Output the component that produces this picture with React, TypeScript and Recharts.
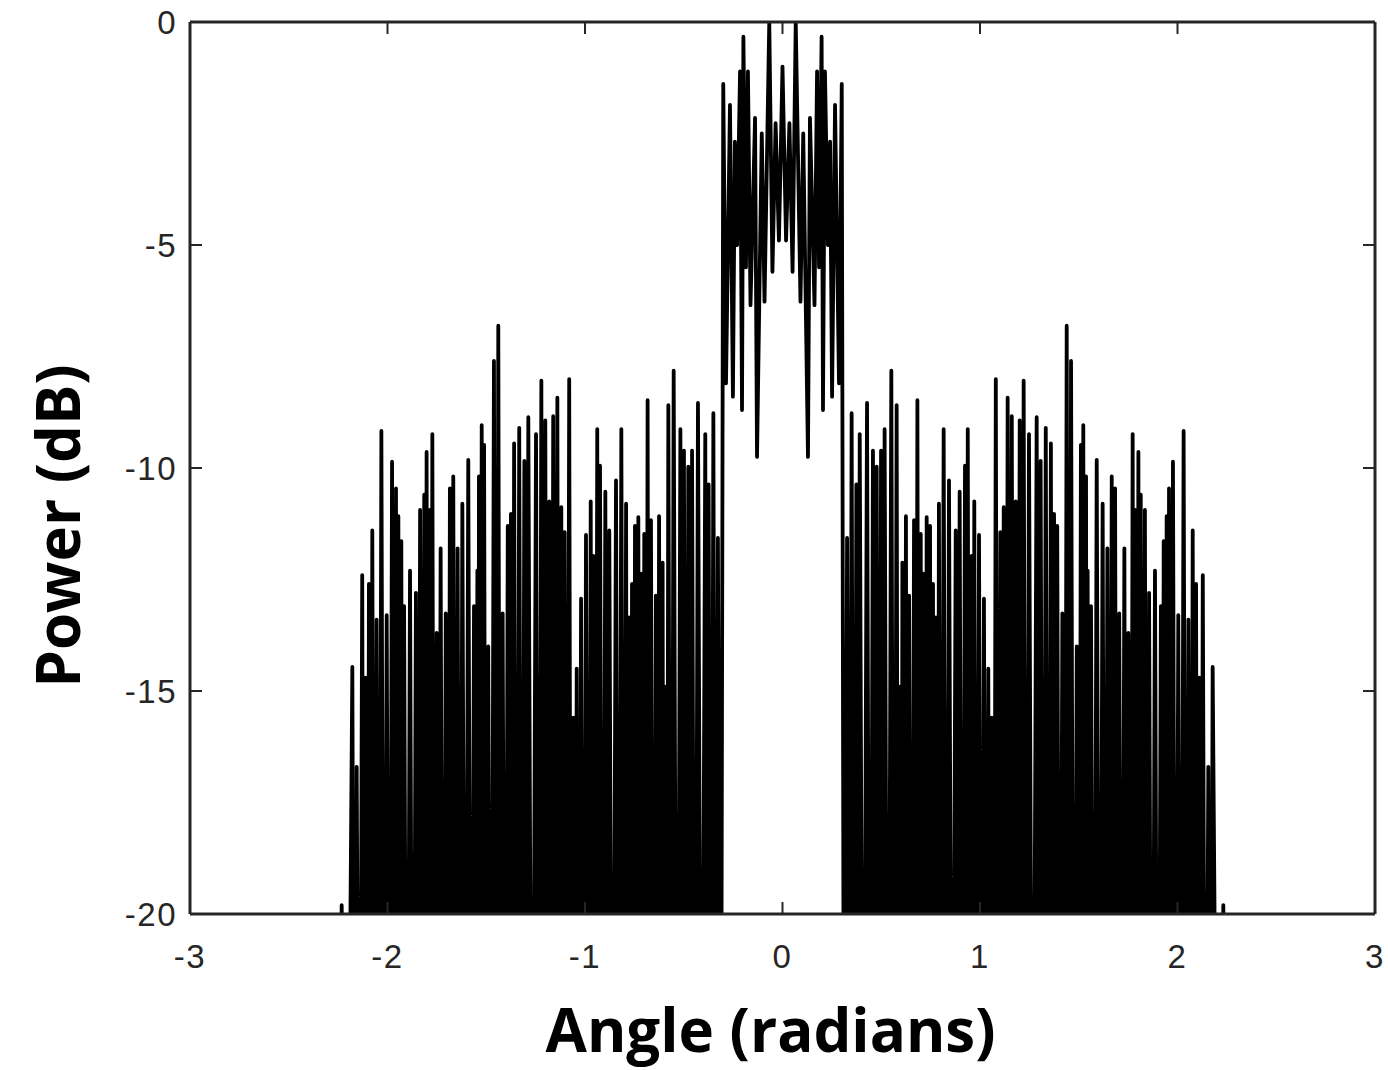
import React from 'react';
import { LineChart, Line, XAxis, YAxis } from 'recharts';

// ---- data ----
const xTicks = [-3, -2, -1, 0, 1, 2, 3];
const yTicks = [-20, -15, -10, -5, 0];

// value used for the dips that fall below the visible -20 dB floor
const floorDb = -30;

// left side-lobe region: peak angles (rad) and peak power (dB)
const leftAngles = [
  -2.232, -2.178, -2.156, -2.128, -2.110, -2.094, -2.077, -2.055, -2.031, -2.004,
  -1.977, -1.957, -1.945, -1.930, -1.916, -1.886, -1.856, -1.835, -1.814, -1.802,
  -1.785, -1.773, -1.751, -1.731, -1.705, -1.684, -1.667, -1.645, -1.621, -1.591,
  -1.562, -1.545, -1.537, -1.523, -1.511, -1.490, -1.461, -1.439, -1.417, -1.391,
  -1.375, -1.359, -1.333, -1.307, -1.287, -1.248, -1.221, -1.201, -1.181, -1.161,
  -1.140, -1.120, -1.103, -1.080, -1.059, -1.042, -1.020, -0.995, -0.971, -0.958,
  -0.938, -0.924, -0.897, -0.877, -0.843, -0.816, -0.792, -0.777, -0.762, -0.747,
  -0.730, -0.713, -0.700, -0.683, -0.666, -0.641, -0.625, -0.607, -0.595, -0.578,
  -0.551, -0.517, -0.499, -0.477, -0.458, -0.428, -0.391, -0.374, -0.350, -0.327,
];
const leftPeaks = [
  -19.8, -14.46, -16.7, -12.4, -14.7, -12.6, -11.4, -13.4, -9.17, -13.3,
  -9.86, -10.46, -11.08, -11.64, -13.1, -12.3, -12.8, -10.94, -10.6, -9.64,
  -10.94, -9.24, -13.7, -11.8, -13.26, -10.46, -10.19, -11.8, -10.8, -9.82,
  -13.1, -12.3, -10.19, -9.04, -9.48, -14.0, -7.6, -6.81, -13.26, -11.3,
  -11.03, -9.45, -9.1, -9.84, -8.86, -9.24, -8.04, -8.93, -10.75, -8.84,
  -8.42, -10.88, -11.44, -8.01, -15.6, -14.5, -12.93, -11.5, -10.75, -11.97,
  -9.13, -9.95, -10.53, -11.4, -10.28, -9.13, -10.8, -13.35, -12.6, -11.3,
  -11.1, -12.37, -11.48, -8.48, -11.17, -12.86, -11.08, -12.12, -14.9, -8.59,
  -7.82, -9.13, -9.61, -9.97, -9.61, -8.54, -9.24, -10.37, -8.77, -11.57,
];

// main lobe: successive samples (peaks and dips)
const centerAngles = [
  -0.300, -0.286, -0.266, -0.251, -0.241, -0.230, -0.215, -0.205, -0.198, -0.185,
  -0.175, -0.162, -0.139, -0.129, -0.105, -0.091, -0.067, -0.051, -0.035, -0.018,
  0.000, 0.018, 0.035, 0.051, 0.067, 0.091, 0.105, 0.129, 0.139, 0.162,
  0.175, 0.185, 0.198, 0.205, 0.215, 0.230, 0.241, 0.251, 0.266, 0.286,
  0.300,
];
const centerPower = [
  -1.39, -8.1, -1.86, -8.4, -2.68, -5.0, -1.11, -8.7, -0.33, -5.5,
  -1.11, -6.35, -2.15, -9.75, -2.5, -6.27, 0.0, -5.6, -2.27, -4.9,
  -1.0, -4.9, -2.27, -5.6, 0.0, -6.27, -2.5, -9.75, -2.15, -6.35,
  -1.11, -5.5, -0.33, -8.7, -1.11, -5.0, -2.68, -8.4, -1.86, -8.1,
  -1.39,
];

// right side-lobe region
const rightAngles = [
  0.327, 0.350, 0.374, 0.391, 0.428, 0.458, 0.477, 0.499, 0.517, 0.551,
  0.578, 0.595, 0.607, 0.625, 0.641, 0.666, 0.683, 0.700, 0.713, 0.730,
  0.747, 0.762, 0.777, 0.792, 0.816, 0.843, 0.877, 0.897, 0.924, 0.938,
  0.958, 0.971, 0.995, 1.020, 1.042, 1.059, 1.080, 1.103, 1.120, 1.140,
  1.161, 1.181, 1.201, 1.221, 1.248, 1.287, 1.307, 1.333, 1.359, 1.375,
  1.391, 1.417, 1.439, 1.461, 1.490, 1.511, 1.523, 1.537, 1.545, 1.562,
  1.591, 1.621, 1.645, 1.667, 1.684, 1.705, 1.731, 1.751, 1.773, 1.785,
  1.802, 1.814, 1.835, 1.856, 1.886, 1.916, 1.930, 1.945, 1.957, 1.977,
  2.004, 2.031, 2.055, 2.077, 2.094, 2.110, 2.128, 2.156, 2.178, 2.232,
];
const rightPeaks = [
  -11.57, -8.77, -10.37, -9.24, -8.54, -9.61, -9.97, -9.61, -9.13, -7.82,
  -8.59, -14.9, -12.12, -11.08, -12.86, -11.17, -8.48, -11.48, -12.37, -11.1,
  -11.3, -12.6, -13.35, -10.8, -9.13, -10.28, -11.4, -10.53, -9.95, -9.13,
  -11.97, -10.75, -11.5, -12.93, -14.5, -15.6, -8.01, -11.44, -10.88, -8.42,
  -8.84, -10.75, -8.93, -8.04, -9.24, -8.86, -9.84, -9.1, -9.45, -11.03,
  -11.3, -13.26, -6.81, -7.6, -14.0, -9.48, -9.04, -10.19, -12.3, -13.1,
  -9.82, -10.8, -11.8, -10.19, -10.46, -13.26, -11.8, -13.7, -9.24, -10.94,
  -9.64, -10.6, -10.94, -12.8, -12.3, -13.1, -11.64, -11.08, -10.46, -9.86,
  -13.3, -9.17, -13.4, -11.4, -12.6, -14.7, -12.4, -16.7, -14.46, -19.8,
];

type Pt = { a: number; p: number };

function sideLobe(angles: number[], peaks: number[]): Pt[] {
  const out: Pt[] = [];
  for (let i = 0; i < angles.length; i++) {
    out.push({ a: angles[i], p: peaks[i] });
    if (i < angles.length - 1) {
      out.push({ a: (angles[i] + angles[i + 1]) / 2, p: floorDb });
    }
  }
  return out;
}

const data: Pt[] = [
  { a: -2.26, p: floorDb },
  ...sideLobe(leftAngles, leftPeaks),
  { a: -0.313, p: floorDb },
  ...centerAngles.map((a, i) => ({ a, p: centerPower[i] })),
  { a: 0.313, p: floorDb },
  ...sideLobe(rightAngles, rightPeaks),
  { a: 2.26, p: floorDb },
];

const AXIS = '#262626';
const TICK_FONT = '"Liberation Sans", Arial, Helvetica, sans-serif';
const TITLE_FONT = '"Open Sans", "Noto Sans", sans-serif';
const TICK_LEN = 12;
const TICK_SIZE = 33;

const BottomTick = (props: any) => {
  const { x, y, payload } = props;
  return (
    <g>
      <line x1={x} y1={y} x2={x} y2={y - TICK_LEN} stroke={AXIS} strokeWidth={2} />
      <text x={x} y={y + 54} textAnchor="middle" fontSize={TICK_SIZE} letterSpacing={1.5} fill={AXIS} fontFamily={TICK_FONT}>
        {payload.value}
      </text>
    </g>
  );
};
const TopTick = (props: any) => {
  const { x, y } = props;
  return <line x1={x} y1={y} x2={x} y2={y + TICK_LEN} stroke={AXIS} strokeWidth={2} />;
};
const LeftTick = (props: any) => {
  const { x, y, payload } = props;
  return (
    <g>
      <line x1={x} y1={y} x2={x + TICK_LEN} y2={y} stroke={AXIS} strokeWidth={2} />
      <text x={x - 13} y={y + 12} textAnchor="end" fontSize={TICK_SIZE} letterSpacing={1.5} fill={AXIS} fontFamily={TICK_FONT}>
        {payload.value}
      </text>
    </g>
  );
};
const RightTick = (props: any) => {
  const { x, y } = props;
  return <line x1={x} y1={y} x2={x - TICK_LEN} y2={y} stroke={AXIS} strokeWidth={2} />;
};

const XTitle = (props: any) => {
  const vb = props.viewBox || {};
  const cx = vb.x + vb.width / 2 - 12;
  return (
    <text x={cx} y={vb.y + 138} textAnchor="middle" fontSize={60} fontWeight={700} fill="#000" fontFamily={TITLE_FONT}>
      Angle (radians)
    </text>
  );
};
const YTitle = (props: any) => {
  const vb = props.viewBox || {};
  const cx = 80;
  const cy = vb.y + vb.height / 2 + 58;
  return (
    <text
      x={cx}
      y={cy}
      transform={`rotate(-90, ${cx}, ${cy})`}
      textAnchor="middle"
      fontSize={60}
      fontWeight={700}
      fill="#000"
      fontFamily={TITLE_FONT}
    >
      Power (dB)
    </text>
  );
};

export default function App() {
  return (
    <div style={{ position: 'absolute', left: 0, top: 0, width: 1388, height: 1070, background: '#fff' }}>
      <LineChart width={1388} height={1070} data={data} margin={{ top: 0, right: 0, bottom: 0, left: 0 }}>
        <XAxis
          xAxisId="main"
          dataKey="a"
          type="number"
          domain={[-3, 3]}
          ticks={xTicks}
          allowDataOverflow
          height={156}
          orientation="bottom"
          axisLine={{ stroke: AXIS, strokeWidth: 3 }}
          tickLine={false}
          tickSize={0}
          tickMargin={0}
          tick={<BottomTick />}
          interval={0}
          label={<XTitle />}
        />
        <XAxis
          xAxisId="top"
          dataKey="a"
          type="number"
          domain={[-3, 3]}
          ticks={xTicks}
          allowDataOverflow
          height={22}
          orientation="top"
          axisLine={{ stroke: AXIS, strokeWidth: 3 }}
          tickLine={false}
          tickSize={0}
          tickMargin={0}
          tick={<TopTick />}
          interval={0}
        />
        <YAxis
          yAxisId="main"
          type="number"
          domain={[-20, 0]}
          ticks={yTicks}
          allowDataOverflow
          width={190}
          orientation="left"
          axisLine={{ stroke: AXIS, strokeWidth: 3 }}
          tickLine={false}
          tickSize={0}
          tickMargin={0}
          tick={<LeftTick />}
          interval={0}
          label={<YTitle />}
        />
        <YAxis
          yAxisId="right"
          type="number"
          domain={[-20, 0]}
          ticks={yTicks}
          allowDataOverflow
          width={13}
          orientation="right"
          axisLine={{ stroke: AXIS, strokeWidth: 3 }}
          tickLine={false}
          tickSize={0}
          tickMargin={0}
          tick={<RightTick />}
          interval={0}
        />
        <Line
          xAxisId="main"
          yAxisId="main"
          dataKey="p"
          type="linear"
          stroke="#000"
          strokeWidth={3.8}
          strokeLinejoin="round"
          strokeLinecap="round"
          dot={false}
          activeDot={false}
          isAnimationActive={false}
        />
      </LineChart>
    </div>
  );
}
